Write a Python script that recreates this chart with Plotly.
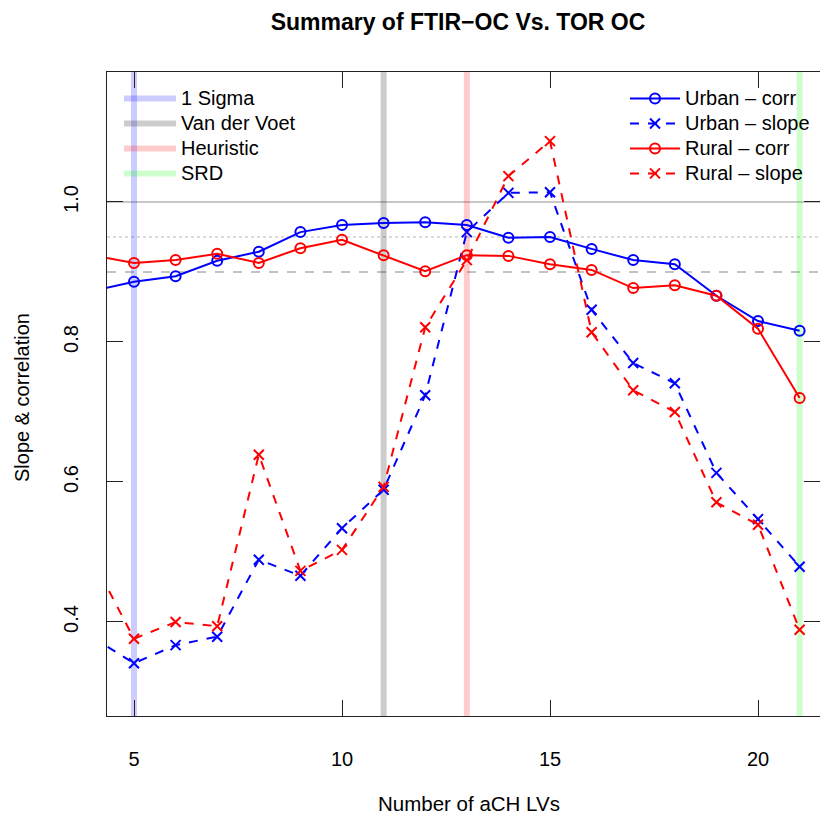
import plotly.graph_objects as go

# ---------------- data ----------------
n_lvs = [4, 5, 6, 7, 8, 9, 10, 11, 12, 13, 14, 15, 16, 17, 18, 19, 20, 21]
urban_corr = [0.873, 0.886, 0.894, 0.916, 0.929, 0.957, 0.967, 0.970, 0.971, 0.967,
              0.949, 0.950, 0.933, 0.917, 0.911, 0.866, 0.830, 0.816]
urban_slope = [0.378, 0.341, 0.367, 0.379, 0.489, 0.466, 0.534, 0.589, 0.724, 0.957,
               1.013, 1.014, 0.846, 0.770, 0.741, 0.613, 0.547, 0.479]
rural_corr = [0.924, 0.913, 0.917, 0.926, 0.913, 0.934, 0.946, 0.924, 0.901, 0.924,
              0.923, 0.911, 0.903, 0.877, 0.881, 0.866, 0.819, 0.720]
rural_slope = [0.490, 0.376, 0.400, 0.394, 0.639, 0.473, 0.503, 0.593, 0.821, 0.917,
               1.037, 1.087, 0.814, 0.731, 0.700, 0.571, 0.539, 0.389]

# selected number of LVs by each criterion
criteria_names = ["1 Sigma", "Van der Voet", "Heuristic", "SRD"]
criteria_lvs = [5, 11, 13, 21]
criteria_colors = ["rgba(0,0,255,0.2)", "rgba(0,0,0,0.2)", "rgba(255,0,0,0.2)", "rgba(0,255,0,0.2)"]

# reference levels
ref_levels = [1.0, 0.95, 0.90]
ref_dash = ["solid", "dot", "dash"]
ref_colors = ["#b5b5b5", "#cfcfcf", "#b0b0b0"]

x_ticks = [5, 10, 15, 20]
y_ticks = [0.4, 0.6, 0.8, 1.0]
x_range = [4.351, 21.49]
y_range = [0.2657, 1.1857]

FONT = "Liberation Sans, Arial, Helvetica, sans-serif"


def big(s):
    return '<span style="font-size:20px">' + s + '</span>'


fig = go.Figure()

# horizontal reference lines
for lvl, d, c in zip(ref_levels, ref_dash, ref_colors):
    fig.add_trace(go.Scatter(x=x_range, y=[lvl, lvl], mode="lines",
                             line=dict(color=c, width=1.3, dash=d),
                             showlegend=False, hoverinfo="skip"))

# vertical criteria lines
for name, lv, col in zip(criteria_names, criteria_lvs, criteria_colors):
    fig.add_trace(go.Scatter(x=[lv, lv], y=y_range, mode="lines",
                             line=dict(color=col, width=6),
                             name=big(name), legend="legend", showlegend=True,
                             hoverinfo="skip"))

series = [
    ("Urban \u2013 corr", urban_corr, "blue", "solid", "circle-open"),
    ("Urban \u2013 slope", urban_slope, "blue", "dash", "x-thin-open"),
    ("Rural \u2013 corr", rural_corr, "red", "solid", "circle-open"),
    ("Rural \u2013 slope", rural_slope, "red", "dash", "x-thin-open"),
]
for name, vals, col, dash, sym in series:
    fig.add_trace(go.Scatter(
        x=n_lvs, y=vals, mode="lines+markers", name=big(name),
        line=dict(color=col, width=2, dash=dash),
        marker=dict(symbol=sym, size=10, color=col, line=dict(color=col, width=2)),
        legend="legend2", cliponaxis=True))

# helper trace for right y-axis ticks
fig.add_trace(go.Scatter(x=[None], y=[None], xaxis="x", yaxis="y2", showlegend=False))

W, H = 820, 816
L, R, T, B = 107, 0, 72, 100
PW, PH = W - L - R, H - T - B

fig.update_layout(
    width=W, height=H,
    margin=dict(l=L, r=R, t=T, b=B),
    paper_bgcolor="white", plot_bgcolor="white",
    font=dict(family=FONT, size=20, color="black"),
    showlegend=True,
    xaxis=dict(range=x_range, tickvals=x_ticks, ticks="inside", ticklen=16,
               tickcolor="#222", tickwidth=1, showline=True, linecolor="#222",
               linewidth=1, mirror="ticks", showgrid=False, zeroline=False,
               tickfont=dict(size=20), ticklabelstandoff=25),
    yaxis=dict(range=y_range, tickvals=y_ticks, ticktext=["0.4", "0.6", "0.8", "1.0"],
               ticks="inside", ticklen=16, tickcolor="#222", tickwidth=1,
               showline=True, linecolor="#222", linewidth=1, mirror=False,
               showgrid=False, zeroline=False, tickangle=-90,
               tickfont=dict(size=20), ticklabelstandoff=20),
    yaxis2=dict(range=y_range, tickvals=y_ticks, overlaying="y", side="right",
                anchor="x", ticks="inside", ticklen=16, tickcolor="#222",
                showticklabels=False, showline=False, showgrid=False, zeroline=False),
    legend=dict(x=(119 - L) / PW, xanchor="left",
                y=1 - (81 - T) / PH, yanchor="top",
                bgcolor="rgba(0,0,0,0)", borderwidth=0, font=dict(size=16.9),
                tracegroupgap=0, itemwidth=52),
    legend2=dict(x=(625 - L) / PW, xanchor="left",
                 y=1 - (81 - T) / PH, yanchor="top",
                 bgcolor="rgba(0,0,0,0)", borderwidth=0, font=dict(size=16.9),
                 tracegroupgap=0, itemwidth=50),
    title=dict(text="<b>Summary of FTIR\u2212OC Vs. TOR OC</b>",
               x=458 / W, xanchor="center", xref="container",
               y=1 - 22 / H, yanchor="middle", yref="container",
               font=dict(size=23, family=FONT)),
    annotations=[
        dict(text="Number of aCH LVs", xref="paper", yref="paper",
             x=(469 - L) / PW, y=-(803 - 716) / PH,
             xanchor="center", yanchor="middle", showarrow=False,
             font=dict(size=20.5)),
        dict(text="Slope &amp; correlation", xref="paper", yref="paper",
             x=-(107 - 22) / PW, y=(716 - 398) / PH,
             xanchor="center", yanchor="middle", textangle=-90, showarrow=False,
             font=dict(size=20)),
    ],
)

fig.write_html("out.html")
